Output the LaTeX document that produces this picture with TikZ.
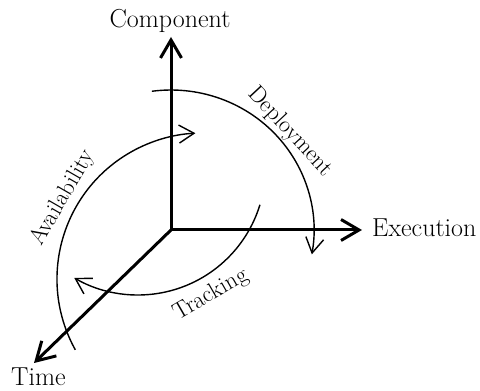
\documentclass[tikz,border=0pt]{standalone}
\usepackage{fontspec}
\usetikzlibrary{arrows.meta}
\begin{document}
\begin{tikzpicture}[x=1pt,y=1pt,
  axis/.style={line width=3pt,-{Straight Barb[length=18pt,width=21pt,line width=3pt]}},
  turn/.style={line width=1.4pt,-{Straight Barb[length=15pt,width=18pt,line width=1.4pt]}},
  axlabel/.style={font=\fontsize{26}{30}\selectfont, inner sep=0pt},
  arclabel/.style={font=\fontsize{23.5}{28}\selectfont, inner sep=0pt}]
\useasboundingbox (0,0) rectangle (480,391);
\coordinate (O) at (171,161);
\coordinate (C) at (171,354);
\coordinate (E) at (362,161);
\coordinate (T) at (34,28);
\draw[axis] (O) -- (C);
\draw[axis] (O) -- (E);
\draw[axis] (O) -- (T);
\node[axlabel, anchor=base] (cl) at (170,363) {Component};
\node[axlabel, anchor=base west] (el) at (372,154) {Execution};
\node[axlabel, anchor=base west] (tl) at (11,5) {Time};
% Deployment
\draw[turn] (O) ++(97.7:143 and 140) arc[start angle=97.7, end angle=-10, x radius=143, y radius=140];
% Availability
\coordinate (AC) at (203,112);
\draw[turn] (AC) ++(209:146) arc[start angle=209, end angle=93, radius=146];
% Tracking
\coordinate (TC) at (138,223.5);
\draw[turn] (TC) ++(-17:127.5) arc[start angle=-17, end angle=-120, radius=127.5];
\node[arclabel, rotate=-47] (dl) at (290,259) {Deployment};
\node[arclabel, rotate=60] (al) at (63,193) {Availability};
\node[arclabel, rotate=30] (trl) at (211,96) {Tracking};
\end{tikzpicture}
\end{document}
